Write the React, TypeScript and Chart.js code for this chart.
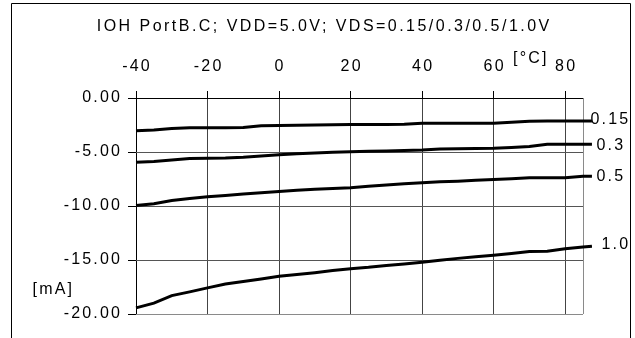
import React, { useEffect, useRef } from "react";
import { Chart, registerables } from "chart.js";

Chart.register(...registerables);

const TITLE = "IOH PortB.C; VDD=5.0V; VDS=0.15/0.3/0.5/1.0V";
const X_UNIT = "[°C]";
const Y_UNIT = "[mA]";

const temps = [-40, -35, -30, -25, -20, -15, -10, -5, 0, 5, 10, 15, 20, 25, 30, 35, 40, 45, 50, 55, 60, 65, 70, 75, 80, 85, 87.5];

const vds015 = [-3.04, -2.97, -2.83, -2.76, -2.76, -2.75, -2.74, -2.56, -2.55, -2.53, -2.5, -2.48, -2.46, -2.45, -2.45, -2.42, -2.34, -2.34, -2.34, -2.34, -2.33, -2.25, -2.15, -2.14, -2.13, -2.12, -2.12];
const vds03 = [-5.94, -5.88, -5.75, -5.6, -5.57, -5.55, -5.48, -5.37, -5.26, -5.17, -5.1, -5.03, -4.98, -4.94, -4.9, -4.86, -4.82, -4.73, -4.7, -4.68, -4.65, -4.58, -4.48, -4.28, -4.28, -4.28, -4.28];
const vds05 = [-9.95, -9.8, -9.5, -9.3, -9.15, -9.02, -8.9, -8.77, -8.65, -8.55, -8.45, -8.38, -8.3, -8.18, -8.06, -7.95, -7.85, -7.75, -7.7, -7.62, -7.55, -7.47, -7.39, -7.39, -7.38, -7.24, -7.24];
const vds10 = [-19.43, -19.0, -18.3, -17.95, -17.58, -17.22, -17.0, -16.75, -16.5, -16.35, -16.17, -15.98, -15.8, -15.68, -15.52, -15.36, -15.2, -15.02, -14.85, -14.7, -14.55, -14.4, -14.22, -14.18, -13.96, -13.8, -13.72];

const seriesNames = ["0.15", "0.3", "0.5", "1.0"];
const seriesValues = [vds015, vds03, vds05, vds10];

const X_MIN = -40;
const X_MAX = 85;
const xGridValues = [-40, -20, 0, 20, 40, 60, 80, 85];
const xTickValues = [-40, -20, 0, 20, 40, 60, 80];
const xTickLabels = ["-40", "-20", "0", "20", "40", "60", "80"];
const yTickValues = [0, -5, -10, -15, -20];
const yTickLabels = ["0.00", "-5.00", "-10.00", "-15.00", "-20.00"];

const FONT = '16px "Liberation Sans", Arial, sans-serif';
const LS = 2.2;
const TITLE_LS = 2.47;

const textPlugin = {
  id: "customText",
  afterDraw(chart: any) {
    const ctx = chart.ctx as CanvasRenderingContext2D;
    const xs = chart.scales.x;
    const ys = chart.scales.y;
    const ca = chart.chartArea;
    const align = (p: number) => Math.round(p - 0.5) + 0.5;
    ctx.save();
    // outer frame
    ctx.strokeStyle = "#000";
    ctx.lineWidth = 1;
    ctx.beginPath();
    ctx.moveTo(11.5, 400);
    ctx.lineTo(11.5, 3.5);
    ctx.lineTo(630.5, 3.5);
    ctx.lineTo(630.5, 400);
    ctx.stroke();
    // tick marks
    ctx.beginPath();
    yTickValues.forEach((v) => {
      const y = align(ys.getPixelForValue(v));
      ctx.moveTo(ca.left - 8, y);
      ctx.lineTo(ca.left, y);
    });
    xTickValues.forEach((v) => {
      const x = align(xs.getPixelForValue(v));
      ctx.moveTo(x, ca.top - 7);
      ctx.lineTo(x, ca.top);
    });
    ctx.stroke();

    ctx.fillStyle = "#000";
    ctx.font = FONT;
    ctx.textBaseline = "alphabetic";

    // title
    (ctx as any).letterSpacing = TITLE_LS + "px";
    ctx.textAlign = "center";
    ctx.fillText(TITLE, 323 + TITLE_LS / 2, 31);

    (ctx as any).letterSpacing = LS + "px";
    // x tick labels (top)
    xTickValues.forEach((v, i) => {
      const x = xs.getPixelForValue(v);
      ctx.fillText(xTickLabels[i], x + LS / 2, 70.5);
    });

    // y tick labels
    ctx.textAlign = "right";
    yTickValues.forEach((v, i) => {
      const y = ys.getPixelForValue(v);
      ctx.fillText(yTickLabels[i], 120 + LS, y + 4);
    });

    // units
    ctx.textAlign = "left";
    ctx.fillText(X_UNIT, 513, 63);
    ctx.fillText(Y_UNIT, 32.5, 293.5);

    // series labels
    const labelX = [590.5, 596.5, 596.5, 601.5];
    const labelDy = [3.2, 5.7, 4.4, 2.7];
    seriesNames.forEach((name, i) => {
      const vals = seriesValues[i];
      const y = ys.getPixelForValue(vals[vals.length - 1]);
      ctx.fillText(name, labelX[i], y + labelDy[i]);
    });
    ctx.restore();
  },
};

export default function App() {
  const ref = useRef<HTMLCanvasElement | null>(null);
  useEffect(() => {
    if (!ref.current) return;
    const chart = new Chart(ref.current, {
      type: "line",
      data: {
        datasets: seriesValues.map((vals, i) => ({
          label: seriesNames[i],
          data: temps.map((t, j) => ({ x: t, y: vals[j] })),
          borderColor: "#000",
          backgroundColor: "#000",
          borderWidth: 3,
          pointRadius: 0,
          tension: 0,
          fill: false,
          clip: false as any,
        })),
      },
      options: {
        animation: false,
        responsive: false,
        devicePixelRatio: 1,
        layout: { padding: { left: 136, top: 98, right: 52, bottom: 24 } },
        plugins: { legend: { display: false }, tooltip: { enabled: false }, title: { display: false } },
        scales: {
          x: {
            type: "linear",
            position: "top",
            bounds: "data",
            ticks: { display: false },
            border: { display: false },
            afterDataLimits: (scale: any) => {
              scale.min = X_MIN;
              scale.max = X_MAX;
            },
            afterBuildTicks: (scale: any) => {
              scale.ticks = xGridValues.map((v) => ({ value: v }));
            },
            grid: {
              drawTicks: false,
              lineWidth: 1,
              color: (c: any) => (c.tick && c.tick.value === -40 ? "#000" : c.tick && c.tick.value === 85 ? "#8a8a8a" : "#444"),
            },
          },
          y: {
            type: "linear",
            min: -20,
            max: 0,
            ticks: { display: false, stepSize: 5 },
            border: { display: false },
            grid: {
              drawTicks: false,
              lineWidth: 1,
              color: (c: any) => (c.tick && c.tick.value === 0 ? "#000" : c.tick && c.tick.value === -20 ? "#8a8a8a" : "#555"),
            },
          },
        },
      },
      plugins: [textPlugin],
    });
    return () => chart.destroy();
  }, []);
  return (
    <div style={{ position: "absolute", left: 0, top: 0, width: 635, height: 338, background: "#fff" }}>
      <canvas ref={ref} width={635} height={338} style={{ display: "block" }} />
    </div>
  );
}
